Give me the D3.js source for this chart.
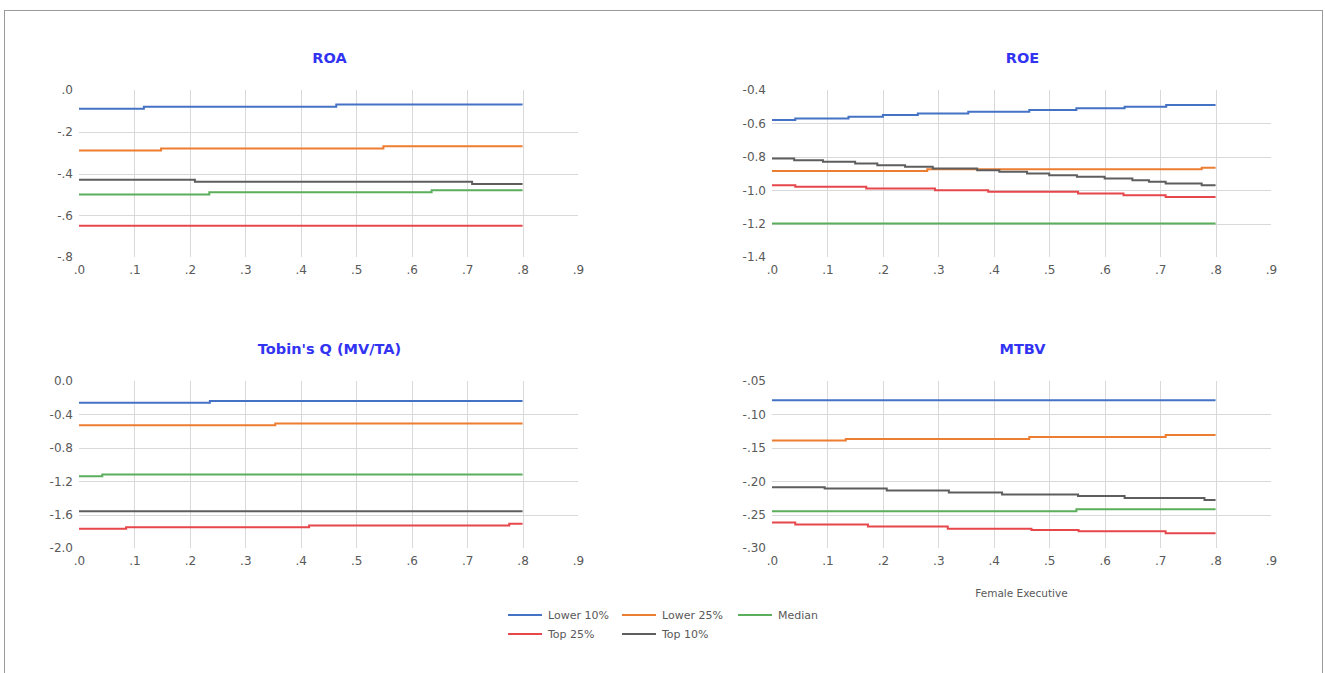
<!DOCTYPE html>
<html>
<head>
<meta charset="utf-8">
<script src="https://cdn.jsdelivr.net/npm/d3@7"></script>
<style>
  html, body { margin: 0; padding: 0; background: #ffffff; }
  svg { display: block; }
  text { font-family: "DejaVu Sans", "Liberation Sans", sans-serif; }
</style>
</head>
<body>
<svg id="chart" width="1325" height="673"></svg>
<script>
// ---- Data -----------------------------------------------------------------
// Each series is a list of [female executive share, predicted value] points;
// the value holds until the next point (step line).
const seriesNames = ["Lower 10%", "Lower 25%", "Median", "Top 25%", "Top 10%"];
const seriesColors = ["#4472C4", "#ED7D31", "#5BAE5B", "#E5474B", "#5E5E5E"];

const xTickValues = [0, 0.1, 0.2, 0.3, 0.4, 0.5, 0.6, 0.7, 0.8, 0.9];
const xTickLabels = [".0", ".1", ".2", ".3", ".4", ".5", ".6", ".7", ".8", ".9"];

// ROA
const roaYTicks = [0, -0.2, -0.4, -0.6, -0.8];
const roaYLabels = [".0", "-.2", "-.4", "-.6", "-.8"];
const roaLower10 = [[0, -0.09], [0.117, -0.08], [0.464, -0.07], [0.8, -0.07]];
const roaLower25 = [[0, -0.29], [0.148, -0.28], [0.549, -0.27], [0.8, -0.27]];
const roaMedian  = [[0, -0.50], [0.235, -0.49], [0.636, -0.48], [0.8, -0.48]];
const roaTop25   = [[0, -0.65], [0.8, -0.65]];
const roaTop10   = [[0, -0.43], [0.209, -0.44], [0.709, -0.45], [0.8, -0.45]];

// ROE
const roeYTicks = [-0.4, -0.6, -0.8, -1.0, -1.2, -1.4];
const roeYLabels = ["-0.4", "-0.6", "-0.8", "-1.0", "-1.2", "-1.4"];
const roeLower10 = [[0, -0.58], [0.042, -0.57], [0.138, -0.56], [0.2, -0.55], [0.263, -0.54],
                    [0.354, -0.53], [0.464, -0.52], [0.549, -0.51], [0.636, -0.50], [0.711, -0.49], [0.8, -0.49]];
const roeLower25 = [[0, -0.885], [0.28, -0.875], [0.775, -0.865], [0.8, -0.865]];
const roeMedian  = [[0, -1.20], [0.8, -1.20]];
const roeTop25   = [[0, -0.97], [0.042, -0.98], [0.17, -0.99], [0.294, -1.00], [0.39, -1.01],
                    [0.552, -1.02], [0.634, -1.03], [0.71, -1.04], [0.8, -1.04]];
const roeTop10   = [[0, -0.81], [0.04, -0.82], [0.092, -0.83], [0.15, -0.84], [0.19, -0.85],
                    [0.24, -0.86], [0.29, -0.87], [0.37, -0.88], [0.41, -0.89], [0.46, -0.90],
                    [0.5, -0.91], [0.55, -0.92], [0.6, -0.93], [0.65, -0.94], [0.68, -0.95],
                    [0.71, -0.96], [0.775, -0.97], [0.8, -0.97]];

// Tobin's Q
const tqYTicks = [0, -0.4, -0.8, -1.2, -1.6, -2.0];
const tqYLabels = ["0.0", "-0.4", "-0.8", "-1.2", "-1.6", "-2.0"];
const tqLower10 = [[0, -0.26], [0.236, -0.24], [0.8, -0.24]];
const tqLower25 = [[0, -0.53], [0.354, -0.51], [0.8, -0.51]];
const tqMedian  = [[0, -1.14], [0.042, -1.12], [0.8, -1.12]];
const tqTop25   = [[0, -1.77], [0.085, -1.75], [0.415, -1.73], [0.776, -1.71], [0.8, -1.71]];
const tqTop10   = [[0, -1.56], [0.8, -1.56]];

// MTBV
const mtbvYTicks = [-0.05, -0.10, -0.15, -0.20, -0.25, -0.30];
const mtbvYLabels = ["-.05", "-.10", "-.15", "-.20", "-.25", "-.30"];
const mtbvLower10 = [[0, -0.079], [0.8, -0.079]];
const mtbvLower25 = [[0, -0.139], [0.133, -0.137], [0.464, -0.134], [0.71, -0.131], [0.8, -0.131]];
const mtbvMedian  = [[0, -0.245], [0.549, -0.242], [0.8, -0.242]];
const mtbvTop25   = [[0, -0.262], [0.042, -0.265], [0.173, -0.268], [0.317, -0.271], [0.468, -0.273],
                     [0.553, -0.275], [0.71, -0.278], [0.8, -0.278]];
const mtbvTop10   = [[0, -0.209], [0.095, -0.211], [0.207, -0.214], [0.319, -0.217], [0.415, -0.220],
                     [0.552, -0.222], [0.636, -0.225], [0.78, -0.228], [0.8, -0.228]];

// ---- Layout ---------------------------------------------------------------
const panels = [
  { title: "ROA", left: 79, right: 578, top: 90, bottom: 257,
    yTicks: roaYTicks, yLabels: roaYLabels,
    series: [roaLower10, roaLower25, roaMedian, roaTop25, roaTop10] },
  { title: "ROE", left: 772, right: 1271, top: 90, bottom: 257,
    yTicks: roeYTicks, yLabels: roeYLabels,
    series: [roeLower10, roeLower25, roeMedian, roeTop25, roeTop10] },
  { title: "Tobin's Q (MV/TA)", left: 79, right: 578, top: 381, bottom: 548,
    yTicks: tqYTicks, yLabels: tqYLabels,
    series: [tqLower10, tqLower25, tqMedian, tqTop25, tqTop10] },
  { title: "MTBV", left: 772, right: 1271, top: 381, bottom: 548,
    yTicks: mtbvYTicks, yLabels: mtbvYLabels,
    series: [mtbvLower10, mtbvLower25, mtbvMedian, mtbvTop25, mtbvTop10],
    xTitle: "Female Executive" }
];

const svg = d3.select("#chart");

// outer frame
svg.append("rect")
  .attr("x", 4.5).attr("y", 10.5)
  .attr("width", 1318).attr("height", 700)
  .attr("fill", "none").attr("stroke", "#9a9a9a").attr("stroke-width", 1);

const gridColor = "#d9d9d9";
const labelColor = "#595959";

panels.forEach(p => {
  const yDomain = d3.extent(p.yTicks);
  const x = d3.scaleLinear().domain([0, 0.9]).range([p.left, p.right]);
  const y = d3.scaleLinear().domain(yDomain).range([p.bottom, p.top]);
  const g = svg.append("g");

  // vertical gridlines at the inner x ticks
  g.append("g").selectAll("line")
    .data(xTickValues.filter(v => v > 0 && v < 0.85))
    .join("line")
    .attr("x1", d => Math.round(x(d)) + 0.5).attr("x2", d => Math.round(x(d)) + 0.5)
    .attr("y1", p.top).attr("y2", p.bottom)
    .attr("stroke", gridColor).attr("stroke-width", 1);

  // horizontal gridlines at the inner y ticks
  g.append("g").selectAll("line")
    .data(p.yTicks.filter(v => v !== yDomain[0] && v !== yDomain[1]))
    .join("line")
    .attr("x1", p.left).attr("x2", p.right)
    .attr("y1", d => Math.round(y(d)) + 0.5).attr("y2", d => Math.round(y(d)) + 0.5)
    .attr("stroke", gridColor).attr("stroke-width", 1);

  // y axis labels
  const yAxis = d3.axisLeft(y)
    .tickValues(p.yTicks)
    .tickFormat((d, i) => p.yLabels[i])
    .tickSize(0).tickPadding(6);
  const ya = g.append("g").attr("transform", `translate(${p.left},0)`).call(yAxis);
  ya.select(".domain").remove();
  ya.selectAll("text").attr("fill", labelColor).style("font-size", "12px")
    .style("font-family", "'DejaVu Sans', sans-serif");

  // x axis labels
  const xAxis = d3.axisBottom(x)
    .tickValues(xTickValues)
    .tickFormat((d, i) => xTickLabels[i])
    .tickSize(0).tickPadding(8);
  const xa = g.append("g").attr("transform", `translate(0,${p.bottom})`).call(xAxis);
  xa.select(".domain").remove();
  xa.selectAll("text").attr("fill", labelColor).style("font-size", "12px")
    .style("font-family", "'DejaVu Sans', sans-serif");

  // panel title
  g.append("text")
    .attr("x", (p.left + p.right) / 2 + 1)
    .attr("y", p.top - 27)
    .attr("text-anchor", "middle")
    .attr("fill", "#3333F2")
    .style("font-size", "14.5px").style("font-weight", "bold")
    .text(p.title);

  if (p.xTitle) {
    g.append("text")
      .attr("x", (p.left + p.right) / 2)
      .attr("y", p.bottom + 49)
      .attr("text-anchor", "middle")
      .attr("fill", labelColor)
      .style("font-size", "10.5px")
      .text(p.xTitle);
  }

  // step lines
  const line = d3.line()
    .x(d => x(d[0]))
    .y(d => y(d[1]))
    .curve(d3.curveStepAfter);

  g.append("g").selectAll("path")
    .data(p.series)
    .join("path")
    .attr("d", d => line(d))
    .attr("fill", "none")
    .attr("stroke", (d, i) => seriesColors[i])
    .attr("stroke-width", 2);
});

// ---- Legend ---------------------------------------------------------------
const legendX = [508, 622, 738];
const legendY = [615, 634];
const legend = svg.append("g");
seriesNames.forEach((name, i) => {
  const col = i % 3, row = Math.floor(i / 3);
  const lx = legendX[col], ly = legendY[row];
  legend.append("line")
    .attr("x1", lx).attr("x2", lx + 34)
    .attr("y1", ly).attr("y2", ly)
    .attr("stroke", seriesColors[i]).attr("stroke-width", 2);
  legend.append("text")
    .attr("x", lx + 40).attr("y", ly + 4)
    .attr("fill", labelColor)
    .style("font-size", "11px")
    .text(name);
});
</script>
</body>
</html>
